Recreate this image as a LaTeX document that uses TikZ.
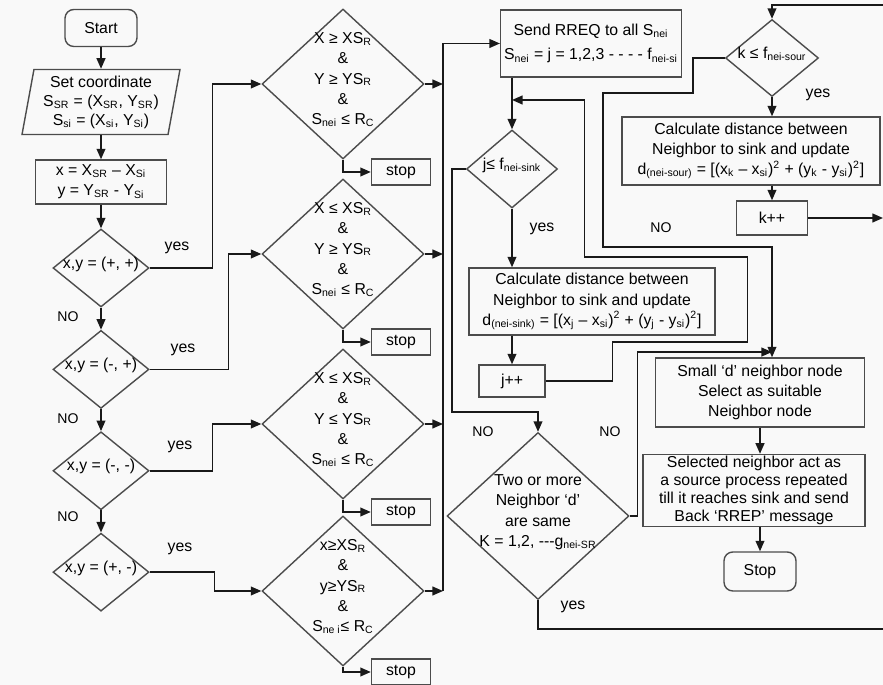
\documentclass[tikz,border=0pt]{standalone}
\usepackage{fontspec}
\setmainfont{Liberation Sans}
\usetikzlibrary{arrows.meta,shapes,positioning,calc}
\tikzstyle{block}=[rectangle,draw=black!70,line width=0.8pt,inner sep=2pt,align=center]
\tikzstyle{terminal}=[block,rounded corners=5pt]
\tikzstyle{stopbox}=[block,minimum width=1.18cm,minimum height=0.52cm]
\tikzstyle{decision}=[diamond,draw=black!70,line width=0.8pt,inner sep=0pt]
\tikzstyle{quadrant}=[decision,minimum width=1.92cm,minimum height=1.56cm]
\tikzstyle{bound}=[decision,minimum width=3.24cm,minimum height=3cm]
\tikzstyle{inout}=[trapezium,trapezium left angle=78,trapezium right angle=102,trapezium stretches body=true,draw=black!70,line width=0.8pt,align=center,inner sep=1pt]
\tikzstyle{tag}=[inner sep=0pt]
\tikzstyle{notag}=[tag,font=\fontsize{8}{9}\selectfont]
\tikzstyle{flow}=[draw=black!90,line width=0.9pt]
\newcommand{\dtext}[1]{\makebox[0pt]{\smash{\begin{tabular}{@{}c@{}}#1\end{tabular}}}}
\newcommand{\sbs}[1]{\textsubscript{#1}}
\newcommand{\sps}[1]{\textsuperscript{#1}}

\begin{document}
\begin{tikzpicture}[x=0.02cm,y=-0.02cm,>={Triangle[length=6pt,width=5pt]},font=\fontsize{9}{11.5}\selectfont]
    \fill[gray!5] (0,0) rectangle (883,685);
    \useasboundingbox (0,0) rectangle (883,685);

    % left column
    \node[terminal,minimum width=1.44cm,minimum height=0.74cm](start) at (101,28){Start};
    \node[inout,minimum width=3.16cm,minimum height=1.3cm,font=\fontsize{9}{10.8}\selectfont](set_coord) at (101,102){Set coordinate\\S\sbs{SR} = (X\sbs{SR}, Y\sbs{SR})\\S\sbs{si} = (X\sbs{si}, Y\sbs{Si})};
    \node[block,minimum width=2.62cm,minimum height=0.88cm](calc_xy) at (101,182){x = X\sbs{SR} – X\sbs{Si}\\y = Y\sbs{SR} - Y\sbs{Si}};
    \node[quadrant](quad1) at (101,268){\dtext{x,y = (+, +)}};
    \node[quadrant](quad2)[below=0.44cm of quad1]{\dtext{x,y = (-, +)}};
    \node[quadrant](quad3)[below=0.44cm of quad2]{\dtext{x,y = (-, -)}};
    \node[quadrant](quad4)[below=0.44cm of quad3]{\dtext{x,y = (+, -)}};

    % range checks
    \node[bound](bound_a) at (343,84){\dtext{X ≥ XS\sbs{R}\\\&\\Y ≥ YS\sbs{R}\\\&\\S\sbs{nei} ≤ R\sbs{C}}};
    \node[bound](bound_b) at (343,254){\dtext{X ≤ XS\sbs{R}\\\&\\Y ≥ YS\sbs{R}\\\&\\S\sbs{nei} ≤ R\sbs{C}}};
    \node[bound](bound_c) at (343,424){\dtext{X ≤ XS\sbs{R}\\\&\\Y ≤ YS\sbs{R}\\\&\\S\sbs{nei} ≤ R\sbs{C}}};
    \node[bound](bound_d) at (343,591){\dtext{x≥XS\sbs{R}\\\&\\y≥YS\sbs{R}\\\&\\S\sbs{ne i}≤ R\sbs{C}}};
    \node[stopbox](stop_a) at (401,172){stop};
    \node[stopbox](stop_b) at (401,342){stop};
    \node[stopbox](stop_c) at (401,512){stop};
    \node[stopbox](stop_d) at (401,672){stop};

    % sink loop
    \node[block,minimum width=3.56cm,minimum height=1.34cm,font=\fontsize{9}{14}\selectfont](rreq) at (591,43.5){Send RREQ to all S\sbs{nei}\\S\sbs{nei} = j = 1,2,3 - - - - f\sbs{nei-si}};
    \node[decision,minimum width=1.82cm,minimum height=1.56cm](sink_chk) at (512,169){\dtext{j≤ f\sbs{nei-sink}}};
    \node[block,minimum width=4.92cm,minimum height=1.34cm](dist_sink) at (592,301.5){Calculate distance between\\Neighbor to sink and update\\d\sbs{(nei-sink)} = [(x\sbs{j} – x\sbs{si})\sps{2} + (y\sbs{j} - y\sbs{si})\sps{2}]};
    \node[block,minimum width=1.32cm,minimum height=0.64cm](j_inc) at (512,381){j++};
    \node[decision,minimum width=3.64cm,minimum height=3.34cm](same_d) at (538,516){\dtext{Two or more\\Neighbor ‘d’\\are same\\K = 1,2, -{}-{}-g\sbs{nei-SR}}};

    % source loop
    \node[decision,minimum width=1.86cm,minimum height=1.54cm](sour_chk) at (772,58){\dtext{k ≤ f\sbs{nei-sour}}};
    \node[block,minimum width=5.16cm,minimum height=1.36cm](dist_sour) at (751,151){Calculate distance between\\Neighbor to sink and update\\d\sbs{(nei-sour)} = [(x\sbs{k} – x\sbs{si})\sps{2} + (y\sbs{k} - y\sbs{si})\sps{2}]};
    \node[block,minimum width=1.42cm,minimum height=0.68cm](k_inc) at (772,218){k++};
    \node[block,minimum width=4.18cm,minimum height=1.38cm](small_d) at (760,392.5){Small ‘d’ neighbor node\\Select as suitable\\Neighbor node};
    \node[block,minimum width=4.44cm,minimum height=1.38cm,inner sep=1pt,font=\fontsize{9}{10.2}\selectfont](select_n) at (754,490.5){Selected neighbor act as\\a source process repeated\\till it reaches sink and send\\Back ‘RREP’ message};
    \node[terminal,minimum width=1.44cm,minimum height=0.78cm](stop_end) at (760,571.5){Stop};

    % labels
    \node[tag](yes_1) at (177,248){yes};
    \node[tag](yes_2) at (183,350){yes};
    \node[tag](yes_3) at (180,447){yes};
    \node[tag](yes_4) at (180,549){yes};
    \node[notag](no_1) at (68,317){NO};
    \node[notag](no_2) at (68,419){NO};
    \node[notag](no_3) at (68,517){NO};
    \node[tag](yes_sink) at (542,229){yes};
    \node[notag](no_sink) at (483,432){NO};
    \node[notag](no_same) at (610,432){NO};
    \node[tag](yes_same) at (573,607){yes};
    \node[notag](no_sour) at (661,228){NO};
    \node[tag](yes_sour) at (818,95){yes};

    \coordinate (bus_bot) at (443,591);
    \coordinate (bus_top) at (bus_bot |- rreq.west);
    \coordinate (sink_loop) at (512,100);
    \coordinate (sour_in) at (883,5);
    \coordinate (k_out) at (883,218);
    \coordinate (same_out) at (883,629);
    \coordinate (small_in) at (sour_chk.south |- small_d.north);

    \draw[flow,->](start.south) -- (set_coord.north);
    \draw[flow,->](set_coord.south) -- (calc_xy.north);
    \draw[flow,->](calc_xy.south) -- (quad1.north);
    \draw[flow,->](quad1.south) -- (quad2.north);
    \draw[flow,->](quad2.south) -- (quad3.north);
    \draw[flow,->](quad3.south) -- (quad4.north);

    \draw[flow,->](quad1.east) -- ++(63,0) |- (bound_a.west);
    \draw[flow,->](quad2.east) -- ++(79,0) |- (bound_b.west);
    \draw[flow,->](quad3.east) -- ++(63,0) |- (bound_c.west);
    \draw[flow,->](quad4.east) -- ++(65,0) |- (bound_d.west);

    \draw[flow,->](bound_a.south) |- (stop_a.west);
    \draw[flow,->](bound_b.south) |- (stop_b.west);
    \draw[flow,->](bound_c.south) |- (stop_c.west);
    \draw[flow,->](bound_d.south) |- (stop_d.west);

    \draw[flow,->](bound_a.east) -- (bound_a.east -| bus_bot);
    \draw[flow,->](bound_b.east) -- (bound_b.east -| bus_bot);
    \draw[flow,->](bound_c.east) -- (bound_c.east -| bus_bot);
    \draw[flow,->](bound_d.east) -- (bus_bot);
    \draw[flow,->](bus_bot) -- (bus_top) -- (rreq.west);

    \draw[flow,->](sink_chk.north |- rreq.south) -- (sink_chk.north);
    \draw[flow,->](sink_chk.south) -- (sink_chk.south |- dist_sink.north);
    \draw[flow,->](j_inc.north |- dist_sink.south) -- (j_inc.north);
    \draw[flow,->](j_inc.east) -- ++(67,0) -- ++(0,-39) -- ++(135,0) -- ++(0,-85) -- ++(-163,0) |- (sink_loop);
    \draw[flow,->](sink_chk.west) -- ++(-14,0) -- ++(0,243) -| (same_d.north);

    \draw[flow,->](sour_in) -| (sour_chk.north);
    \draw[flow,->](sour_chk.south) -- (sour_chk.south |- dist_sour.north);
    \draw[flow,->](k_inc.north |- dist_sour.south) -- (k_inc.north);
    \draw[flow,->](k_inc.east) -- (k_out);
    \draw[flow,->](sour_chk.west) -- ++(-32,0) -- ++(0,35) -- ++(-90,0) -- ++(0,154) -| (small_in);
    \draw[flow,->](same_d.east) -- ++(8,0) |- ([yshift=3pt]small_in);
    \draw[flow,->](small_d.south) -- (small_d.south |- select_n.north);
    \draw[flow,->](select_n.south -| stop_end.north) -- (stop_end.north);
    \draw[flow](same_d.south) |- (same_out);
\end{tikzpicture}
\end{document}
